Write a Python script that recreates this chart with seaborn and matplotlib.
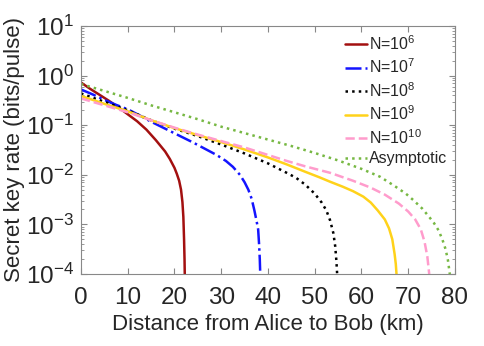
import numpy as np
import pandas as pd
import matplotlib
matplotlib.use("Agg")
import matplotlib.pyplot as plt
import seaborn as sns

# -------------------------------
# Data: distance (km) and log10 of key rate (bits/pulse)
# -------------------------------
km_n6 = [0, 2, 4, 6, 8, 10, 12, 14, 16, 18, 19, 20, 20.5, 21, 21.4, 21.7, 21.9, 22.05, 22.15, 22.2]
log_n6 = [-0.14, -0.27, -0.39, -0.51, -0.64, -0.78, -0.92, -1.09, -1.30, -1.53, -1.68,
          -1.86, -1.98, -2.12, -2.30, -2.55, -2.85, -3.3, -3.7, -4.0]

km_n7 = [0, 2.5, 5, 7.5, 10, 12.5, 15, 18, 21, 24, 27, 29, 31, 32.5, 34, 35, 35.8,
         36.5, 37.1, 37.6, 37.9, 38.1, 38.25, 38.35]
log_n7 = [-0.28, -0.38, -0.49, -0.59, -0.68, -0.80, -0.93, -1.07, -1.21, -1.35, -1.50,
          -1.60, -1.72, -1.84, -2.0, -2.15, -2.3, -2.48, -2.72, -2.95, -3.1, -3.4, -3.7, -4.0]

km_n8 = [0, 5, 10, 15, 20, 25, 30, 35, 40, 44, 46, 48, 50, 51.5, 52.5, 53.3, 54,
         54.4, 54.65, 54.8]
log_n8 = [-0.36, -0.53, -0.70, -0.90, -1.07, -1.22, -1.39, -1.57, -1.77, -1.96, -2.06,
          -2.20, -2.38, -2.56, -2.72, -2.92, -3.18, -3.45, -3.75, -4.0]

km_n9 = [0, 5, 10, 15, 20, 25, 30, 35, 40, 44, 48, 51, 53.3, 56, 58.2, 60.4, 62, 63.5,
         65, 65.9, 66.6, 67.1, 67.35, 67.5]
log_n9 = [-0.41, -0.57, -0.72, -0.90, -1.06, -1.20, -1.34, -1.49, -1.65, -1.79, -1.94,
          -2.05, -2.14, -2.24, -2.33, -2.44, -2.56, -2.72, -2.90, -3.08, -3.3, -3.6, -3.8, -4.0]

km_n10 = [0, 5, 10, 15, 20, 25, 30, 35, 40, 44, 48, 53.3, 58.2, 62, 65, 68, 70,
          71.5, 72.7, 73.5, 74.1, 74.5]
log_n10 = [-0.46, -0.60, -0.74, -0.90, -1.05, -1.19, -1.32, -1.45, -1.60, -1.72, -1.83,
           -1.96, -2.12, -2.26, -2.40, -2.58, -2.74, -2.9, -3.1, -3.35, -3.65, -4.0]

km_asym = [0, 5, 10, 15, 20, 25, 30, 35, 40, 45, 50, 55, 60, 64, 67, 69.5, 71.1,
           73, 74.5, 75.5, 76.5, 77.3, 78, 78.5, 78.9]
log_asym = [-0.17, -0.31, -0.45, -0.60, -0.74, -0.88, -1.03, -1.16, -1.29, -1.42, -1.56,
            -1.71, -1.88, -2.04, -2.22, -2.38, -2.51, -2.68, -2.85, -2.97, -3.12, -3.3,
            -3.5, -3.72, -4.0]

labels = ["N=$10^{6}$", "N=$10^{7}$", "N=$10^{8}$", "N=$10^{9}$", "N=$10^{10}$", "Asymptotic"]
colors = ["#a31010", "#1414ff", "#000000", "#ffd21a", "#ff9ccc", "#77b843"]
styles = ["-", "-.", ":", "-", "--", ":"]

series = [(km_n6, log_n6), (km_n7, log_n7), (km_n8, log_n8),
          (km_n9, log_n9), (km_n10, log_n10), (km_asym, log_asym)]

# -------------------------------
# Plot
# -------------------------------
sns.set_style("ticks")
plt.rcParams["font.family"] = ["Liberation Sans", "DejaVu Sans"]
plt.rcParams["mathtext.fontset"] = "custom"
plt.rcParams["mathtext.rm"] = "Liberation Sans"
plt.rcParams["mathtext.it"] = "Liberation Sans:italic"

fig = plt.figure(figsize=(4.85, 3.46), dpi=100)
ax = fig.add_axes([0.167, 0.208, 0.771, 0.717])

for (x, lg), lab, c, ls in zip(series, labels, colors, styles):
    df = pd.DataFrame({"km": x, "rate": np.power(10.0, lg)})
    sns.lineplot(data=df, x="km", y="rate", ax=ax, color=c, linestyle=ls,
                 linewidth=1.8, label=lab, sort=False)

ax.set_yscale("log")
ax.set_xlim(0, 80)
ax.set_ylim(1e-4, 1e1)
ax.set_xticks(range(0, 81, 10))
ax.set_yticks([1e-4, 1e-3, 1e-2, 1e-1, 1e0, 1e1])

ax.tick_params(which="both", direction="in", top=True, right=True,
               color="#888888", labelsize=17.5)
ax.tick_params(axis="x", pad=9)
ax.tick_params(axis="y", pad=5)
ax.tick_params(which="major", length=4)
ax.tick_params(which="minor", length=2)
ax.tick_params(axis="x", which="minor", bottom=False, top=False)
for s in ax.spines.values():
    s.set_color("#888888")
    s.set_linewidth(0.8)

ax.set_xlabel("Distance from Alice to Bob (km)", fontsize=16, labelpad=4)
ax.set_ylabel("Secret key rate (bits/pulse)", fontsize=16, labelpad=1)

ax.legend(loc="upper right", frameon=False, fontsize=11.5, handlelength=1.4,
          handletextpad=0.1, labelspacing=0.3, borderaxespad=0.1)

fig.savefig("out.png", dpi=100)
